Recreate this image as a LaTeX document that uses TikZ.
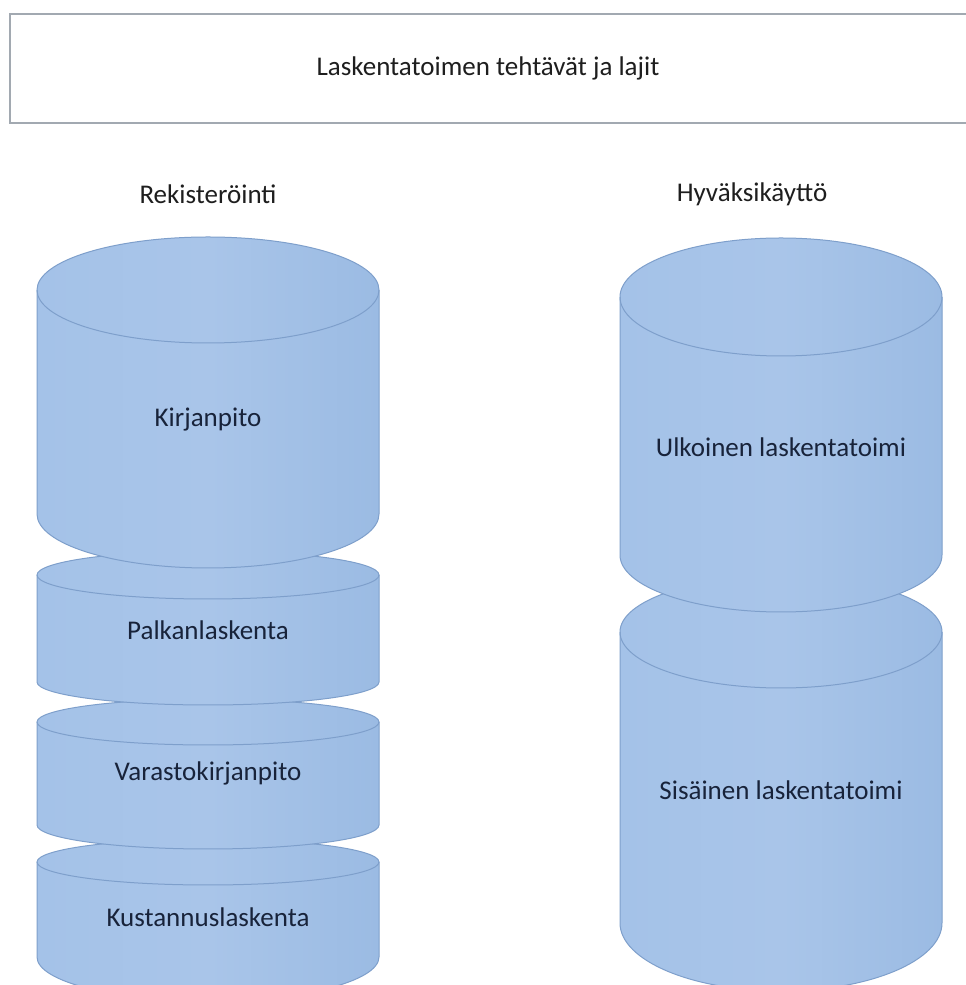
\documentclass[tikz,border=0pt]{standalone}
\usepackage{fontspec}
\setmainfont{Carlito}
\definecolor{canL}{HTML}{A4C2E8}
\definecolor{canM}{HTML}{A9C5E9}
\definecolor{canR}{HTML}{9BBBE3}
\definecolor{canEdge}{HTML}{7E9FCB}
\definecolor{boxEdge}{HTML}{A2A9B1}
\definecolor{canText}{HTML}{18233A}
\definecolor{headText}{HTML}{1E1E1E}
\newcommand\drawcan[6]{% cx, rx, top centre y (image), ry top, side end y (image), ry bottom
  \pgfmathsetmacro\canXL{#1-#2}%
  \pgfmathsetmacro\canXR{#1+#2}%
  \pgfmathsetmacro\canYT{985-#3}%
  \pgfmathsetmacro\canYB{985-#5}%
  \path[canbody] (\canXL,\canYT) -- (\canXL,\canYB)
     arc[start angle=180,end angle=360,x radius=#2,y radius=#6]
     -- (\canXR,\canYT)
     arc[start angle=0,end angle=180,x radius=#2,y radius=#4] -- cycle;
  \draw[canedge] (\canXL,\canYT) arc[start angle=180,end angle=360,x radius=#2,y radius=#4];
}
\begin{document}
\begin{tikzpicture}[x=1pt,y=1pt,
  canbody/.style={left color=canL,right color=canR,middle color=canM,draw=canEdge,line width=1pt},
  canedge/.style={draw=canEdge,line width=1pt},
  canlabel/.style={text=canText,font=\fontsize{27}{32}\selectfont},
  headlabel/.style={text=headText,font=\fontsize{27}{32}\selectfont},
  titlebox/.style={draw=boxEdge,line width=2pt,fill=white}]
\useasboundingbox (0,0) rectangle (966,985);
\clip (0,0) rectangle (966,985);
\fill[white] (0,0) rectangle (966,985);
% title box
\draw[titlebox] (10,{985-123}) rectangle (975,{985-14});
\node[headlabel] (title) at (488,{985-68}) {Laskentatoimen tehtävät ja lajit};
% headings
\node[headlabel] (rek) at (208,{985-194}) {Rekisteröinti};
\node[headlabel] (hyv) at (752,{985-194}) {Hyväksikäyttö};
% left stack (bottom first)
\drawcan{208}{171}{862}{23}{957}{44}
\drawcan{208}{171}{722}{23}{825}{24}
\drawcan{208}{171}{575}{24}{682}{23}
\drawcan{208}{171}{290}{53}{514}{54}
% right stack
\drawcan{781}{161}{632}{56}{923}{68}
\drawcan{781}{161}{297}{59}{555}{57}
% labels
\node[canlabel] (kirj) at (208,{985-420}) {Kirjanpito};
\node[canlabel] (palk) at (208,{985-630}) {Palkanlaskenta};
\node[canlabel] (vara) at (208,{985-773}) {Varastokirjanpito};
\node[canlabel] (kust) at (208,{985-917}) {Kustannuslaskenta};
\node[canlabel] (ulk) at (781,{985-447}) {Ulkoinen laskentatoimi};
\node[canlabel] (sis) at (781,{985-790}) {Sisäinen laskentatoimi};
\end{tikzpicture}
\end{document}
